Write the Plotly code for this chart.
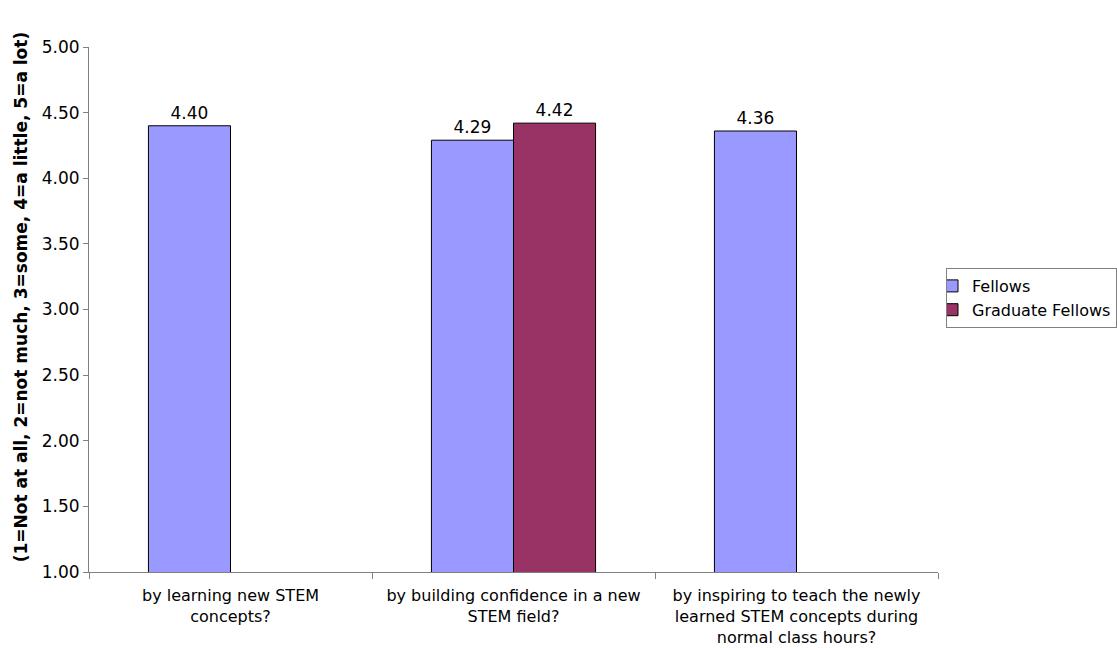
import plotly.graph_objects as go

# Survey items (x categories) and mean ratings per group
categories = [
    "by learning new STEM<br>concepts?",
    "by building confidence in a new<br>STEM field?",
    "by inspiring to teach the newly<br>learned STEM concepts during<br>normal class hours?",
]
fellows = [4.40, 4.29, 4.36]
graduate_fellows = [None, 4.42, None]

y_ticks = [1.0, 1.5, 2.0, 2.5, 3.0, 3.5, 4.0, 4.5, 5.0]
y_title = "(1=Not at all, 2=not much, 3=some, 4=a little, 5=a lot)"

FONT = "DejaVu Sans"
AXIS_GREY = "#808080"
FS = 17

fig = go.Figure()
fig.add_trace(go.Bar(
    name="Fellows", x=categories, y=fellows,
    marker=dict(color="#9999FF", line=dict(color="black", width=1)),
    texttemplate="%{y:.2f}", textposition="outside",
    textfont=dict(family=FONT, size=FS, color="black"),
    cliponaxis=False,
))
fig.add_trace(go.Bar(
    name="Graduate Fellows", x=categories, y=graduate_fellows,
    marker=dict(color="#993366", line=dict(color="black", width=1)),
    texttemplate="%{y:.2f}", textposition="outside",
    textfont=dict(family=FONT, size=FS, color="black"),
    cliponaxis=False,
))

# Rotated y-axis caption placed as a paper-anchored annotation
fig.add_annotation(
    text="<b>" + y_title + "</b>", textangle=-90,
    xref="paper", yref="paper", x=-0.0801, y=0.525,
    xanchor="center", yanchor="middle", showarrow=False,
    font=dict(family=FONT, size=FS, color="black"),
)

fig.update_layout(
    width=1117, height=648,
    margin=dict(l=89, r=179, t=47, b=76, autoexpand=False),
    paper_bgcolor="white", plot_bgcolor="white",
    barmode="group", bargap=0.42, bargroupgap=0,
    font=dict(family=FONT, size=FS, color="black"),
    showlegend=True,
    legend=dict(
        x=(946 - 89) / 849, y=(572 - 268) / 525, xanchor="left", yanchor="top",
        bordercolor=AXIS_GREY, borderwidth=1,
        font=dict(family=FONT, size=16, color="black"),
        itemwidth=30, tracegroupgap=0, indentation=-15,
    ),
    xaxis=dict(
        type="category", tickson="boundaries",
        showline=True, linecolor=AXIS_GREY, linewidth=1,
        ticks="outside", ticklen=6, tickcolor=AXIS_GREY,
        showgrid=False, tickfont=dict(family=FONT, size=16),
        ticklabelstandoff=9,
    ),
    yaxis=dict(
        range=[1, 5], tickvals=y_ticks, tickformat=".2f",
        showline=True, linecolor=AXIS_GREY, linewidth=1,
        ticks="outside", ticklen=5, tickcolor=AXIS_GREY,
        showgrid=False, zeroline=False,
        tickfont=dict(family=FONT, size=FS),
    ),
)

fig.write_html("out.html")
